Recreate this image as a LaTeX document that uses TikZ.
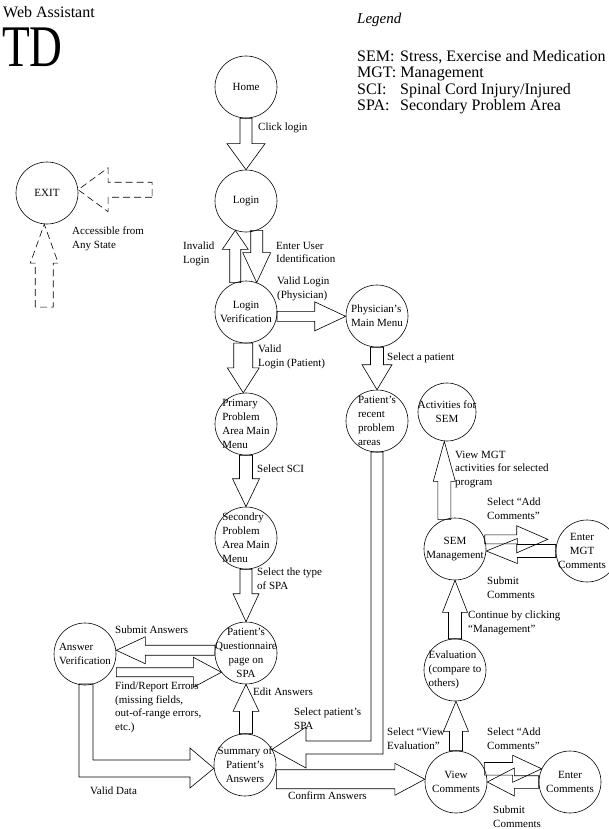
\documentclass[tikz,border=0pt]{standalone}
\usepackage{fontspec}
\setmainfont{Liberation Serif}
\usepackage{graphicx}
\usetikzlibrary{calc}
\tikzset{
  state/.style={draw, circle, minimum size=62pt, inner sep=0pt, line width=0.6pt},
  stxt/.style={inner sep=0pt, font=\fontsize{11}{14}\selectfont, align=center},
  stxtl/.style={stxt, align=left},
  lbl/.style={inner sep=0pt, anchor=north west, align=left, font=\fontsize{11}{13.5}\selectfont},
  blk/.style={draw, line width=0.6pt, line join=miter},
  dsh/.style={dash pattern=on 7pt off 4pt},
}
% block arrow: [style]{tail}{tip}{shaft half width}{head half width}{head length}
\newcommand{\blockarrow}[6][]{%
  \draw[blk,#1] let \p1=#2, \p2=#3,
    \n1={veclen(\x2-\x1,\y2-\y1)},
    \n2={(\x2-\x1)/\n1}, \n3={(\y2-\y1)/\n1},
    \p4=({\x2-#6*\n2},{\y2-#6*\n3}) in
    ({\x1-#4*\n3},{\y1+#4*\n2}) -- ({\x4-#4*\n3},{\y4+#4*\n2}) --
    ({\x4-#5*\n3},{\y4+#5*\n2}) -- (\p2) --
    ({\x4+#5*\n3},{\y4-#5*\n2}) -- ({\x4+#4*\n3},{\y4-#4*\n2}) --
    ({\x1+#4*\n3},{\y1-#4*\n2}) -- cycle;}
\begin{document}
\begin{tikzpicture}[x=1pt,y=-1pt]
\useasboundingbox (0,0) rectangle (608,829);

% title and legend
\node[anchor=north west, inner sep=0pt, font=\fontsize{16}{16}\selectfont] (title) at (3,6) {Web Assistant};
\node[anchor=base west, inner sep=0pt] (td) at (2,67) {\fontsize{59}{59}\selectfont\scalebox{0.77}[1]{TD}};
\node[anchor=base west, inner sep=0pt, font=\fontsize{15}{15}\selectfont\itshape] (leg) at (357,24) {Legend};
\begin{scope}[every node/.style={anchor=base west, inner sep=0pt, font=\fontsize{16}{16}\selectfont}]
\node (k1) at (357,62) {SEM:};
\node (v1) at (400,62) {Stress, Exercise and Medication};
\node (k2) at (357,78) {MGT: Management};
\node (k3) at (357,95) {SCI:};
\node (v3) at (400,95) {Spinal Cord Injury/Injured};
\node (k4) at (357,111) {SPA:};
\node (v4) at (400,111) {Secondary Problem Area};
\end{scope}

% states
\node[state] (home) at (246,87) {};
\node[stxt] (home-t) at (home) {Home};
\node[state] (login) at (246,201) {};
\node[stxt] (login-t) at (login) {Login};
\node[state] (lv) at (246,312) {};
\node[stxt] (lv-t) at (lv) {Login\\Verification};
\node[state] (phys) at (377,316) {};
\node[stxtl] (phys-t) at (phys) {Physician's\\Main Menu};
\node[state] (primary) at (246,424) {};
\node[stxtl] (primary-t) at (primary) {Primary\\Problem\\Area Main\\Menu};
\node[state] (patrec) at (377,421) {};
\node[stxtl] (patrec-t) at (patrec) {Patient's\\recent\\problem\\areas};
\node[state] (secondry) at (246,538) {};
\node[stxtl] (secondry-t) at (secondry) {Secondry\\Problem\\Area Main\\Menu};
\node[state] (quest) at (246,653) {};
\node[stxt] (quest-t) at (quest) {Patient's\\Questionnaire\\page on\\SPA};
\node[state] (ansver) at (85,654) {};
\node[stxtl] (ansver-t) at (ansver) {Answer\\Verification};
\node[state] (summary) at (245,765) {};
\node[stxt] (summary-t) at (summary) {Summary of\\Patient's\\Answers};
\node[state] (viewc) at (456,782) {};
\node[stxt] (viewc-t) at (viewc) {View\\Comments};
\node[state] (enterc) at (570,782) {};
\node[stxt] (enterc-t) at (enterc) {Enter\\Comments};
\node[state] (eval) at (455,670) {};
\node[stxtl] (eval-t) at (eval) {Evaluation\\(compare to\\others)};
\node[state] (semm) at (455,549) {};
\node[stxt] (semm-t) at (semm) {SEM\\Management};
\node[state] (entermgt) at (587,551) {};
\node[stxt] (entermgt-t) at (582,551) {Enter\\MGT\\Comments};
\node[state, minimum size=58pt] (activ) at (447,412) {};
\node[stxt] (activ-t) at (activ) {Activities for\\SEM};
\node[state] (exit) at (47,193) {};
\node[stxt] (exit-t) at (exit) {EXIT};

% block arrows
\blockarrow{(home.south)}{(login.north)}{6}{19}{26}
\blockarrow{(lv.110)}{(login.250)}{5.5}{13}{19}
\blockarrow{(login.290)}{(lv.70)}{6}{14}{30}
\blockarrow{(lv.-8)}{(phys.west |- lv.-8)}{5}{14.5}{31}
\blockarrow{(lv.265)}{(primary.95)}{9.5}{16}{25}
\blockarrow{(phys.south)}{(patrec.north)}{6.5}{15}{25}
\blockarrow{(primary.south)}{(secondry.north)}{6.5}{13.5}{28}
\blockarrow{(secondry.south)}{(quest.north)}{6}{13}{28}
\blockarrow{(quest.175)}{(ansver.east |- quest.175)}{5}{13.5}{29}
\blockarrow{(ansver.east |- quest.-142)}{(quest.-142)}{4.5}{15}{28}
\blockarrow{(summary.north -| quest.south)}{(quest.south)}{6.5}{13}{27}
\draw[blk] (79,684) -- (79,777) -- (190,777) -- (190,788) -- (summary.186)
  -- (190,748) -- (190,760) -- (93,760) -- (93,684) -- cycle;
\draw[blk] (371,452) -- (371,741) -- (306,741) -- (306,727) -- (summary.30)
  -- (306,768) -- (306,754) -- (383,754) -- (383,452) -- cycle;
\blockarrow{(summary.east |- viewc.175)}{(viewc.175)}{9.5}{16}{30}
\blockarrow{(viewc.north)}{(eval.south -| viewc.north)}{6.5}{12.5}{30}
\blockarrow{(viewc.25)}{(enterc.155)}{6.3}{13.5}{29}
\blockarrow{(enterc.west)}{(viewc.east)}{6.3}{14}{27}
\blockarrow{(eval.north)}{(semm.south)}{6.5}{12.5}{32}
\blockarrow{(semm.110)}{(activ.south -| semm.110)}{6.5}{11}{40}
\coordinate (mgtip) at ($(semm.18)+(63,0)$);
\blockarrow{(semm.18)}{(mgtip)}{4.5}{13.5}{31}
\blockarrow{(entermgt.west)}{(semm.east |- entermgt.west)}{6.5}{12.5}{31}
% exit arrows (dashed)
\coordinate (ex1) at ($(exit.6)+(74,0)$);
\coordinate (ex2) at ($(exit.265)+(0,83)$);
\blockarrow[dsh]{(ex1)}{(exit.6)}{7.5}{22}{30}
\blockarrow[dsh]{(ex2)}{(exit.265)}{9}{14}{39}

% labels
\node[lbl] (l-click) at (258,123) {Click login};
\node[lbl] (l-invalid) at (183,242) {Invalid\\Login};
\node[lbl] (l-enter) at (276,242) {Enter User\\Identification};
\node[lbl] (l-vphys) at (277,277) {Valid Login\\(Physician)};
\node[lbl] (l-vpat) at (258,345) {Valid\\Login (Patient)};
\node[lbl] (l-selpat) at (387,353) {Select a patient};
\node[lbl] (l-sci) at (257,465) {Select SCI};
\node[lbl] (l-type) at (257,568) {Select the type\\of SPA};
\node[lbl] (l-submit) at (115,626) {Submit Answers};
\node[lbl] (l-find) at (115,682) {Find/Report Errors\\(missing fields,\\out-of-range errors,\\etc.)};
\node[lbl] (l-edit) at (253,688) {Edit Answers};
\node[lbl] (l-selspa) at (294,708) {Select patient's\\SPA};
\node[lbl] (l-valid) at (90,787) {Valid Data};
\node[lbl] (l-confirm) at (288,792) {Confirm Answers};
\node[lbl] (l-viewev) at (387,728) {Select “View\\Evaluation”};
\node[lbl] (l-addc) at (487,728) {Select “Add\\Comments”};
\node[lbl] (l-subc) at (493,806) {Submit\\Comments};
\node[lbl] (l-cont) at (468,611) {Continue by clicking\\“Management”};
\node[lbl] (l-viewmgt) at (455,451) {View MGT\\activities for selected\\program};
\node[lbl] (l-addmgt) at (487,498) {Select “Add\\Comments”};
\node[lbl] (l-submgt) at (487,577) {Submit\\Comments};
\node[lbl] (l-access) at (72,227) {Accessible from\\Any State};
\end{tikzpicture}
\end{document}
